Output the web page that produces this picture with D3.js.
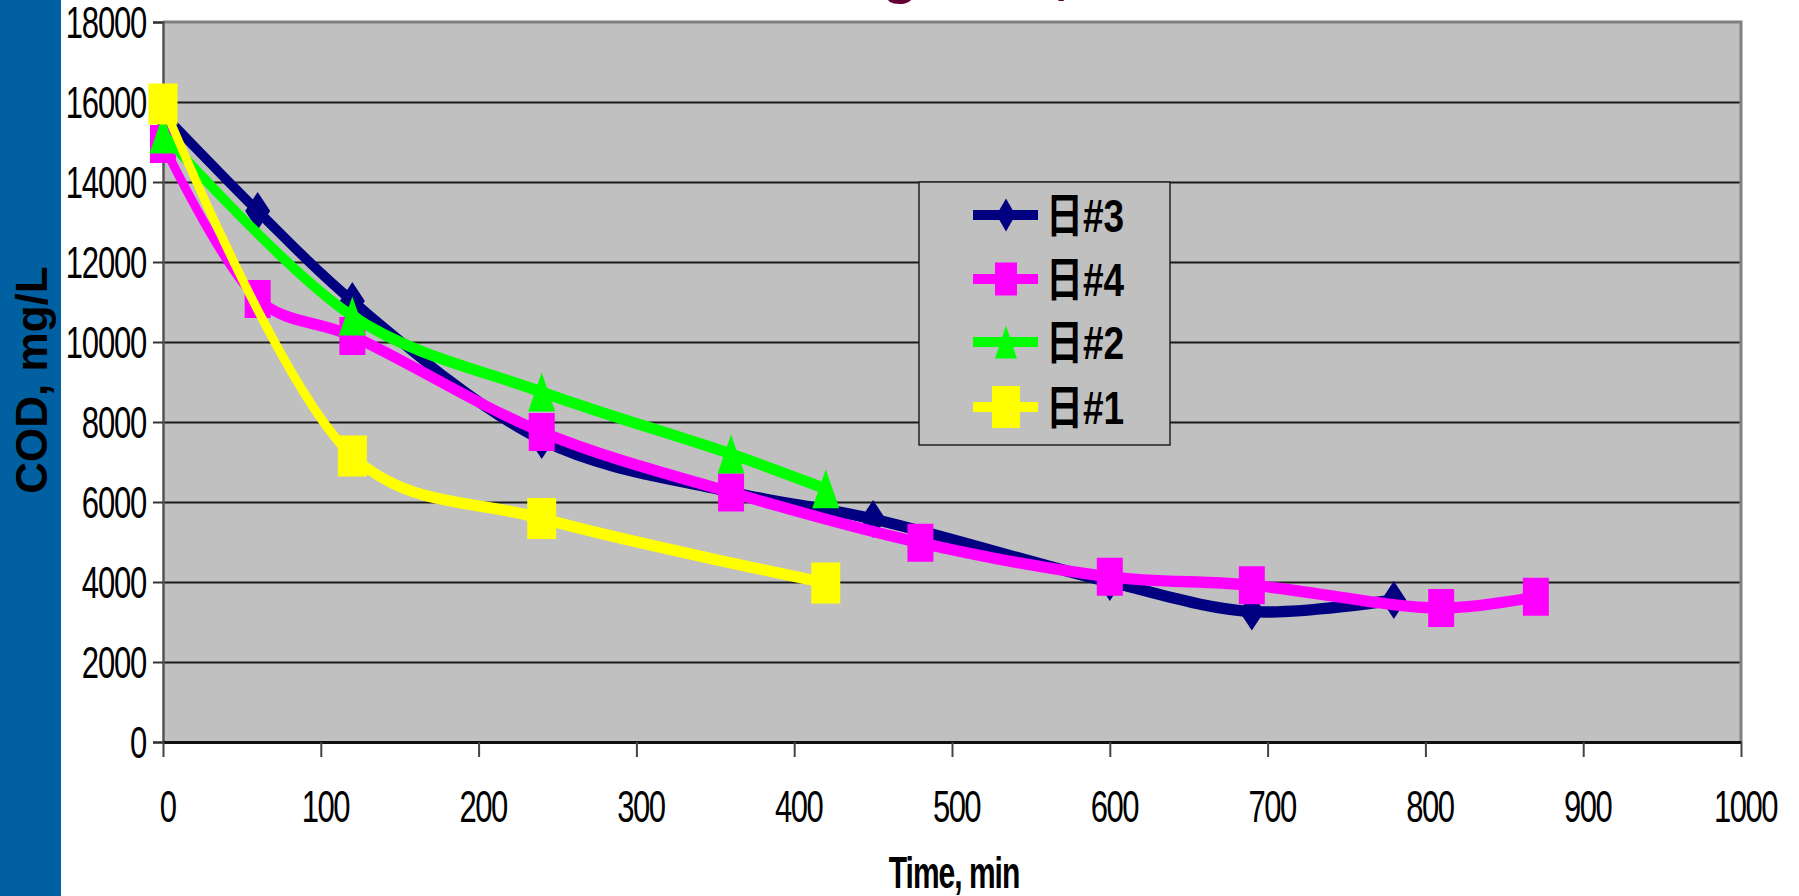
<!DOCTYPE html>
<html>
<head>
<meta charset="utf-8">
<script src="https://cdn.jsdelivr.net/npm/d3@7"></script>
<style>
  body { margin: 0; background: #ffffff; }
  #card { width: 1799px; height: 896px; position: relative; overflow: hidden; }
  text { font-family: "Liberation Sans", Arial, "Noto Sans CJK JP", sans-serif; }
</style>
</head>
<body>
<div id="card"></div>
<script>
//series labels and values
const seriesNames = ["日#3", "日#4", "日#2", "日#1"];
const seriesColors = ["#000080", "#FF00FF", "#00FF00", "#FFFF00"];

const day3Time = [0, 60, 120, 240, 360, 450, 600, 690, 780];
const day3COD  = [15700, 13275, 11025, 7550, 6250, 5575, 4000, 3260, 3550];

const day4Time = [0, 60, 120, 240, 360, 480, 600, 690, 810, 870];
const day4COD  = [14950, 11075, 10150, 7750, 6240, 4980, 4130, 3920, 3350, 3630];

const day2Time = [0, 120, 240, 360, 420];
const day2COD  = [15200, 10650, 8750, 7200, 6330];

const day1Time = [0, 120, 240, 420];
const day1COD  = [15950, 7150, 5590, 3975];

const xTicks = [0, 100, 200, 300, 400, 500, 600, 700, 800, 900, 1000];
const yTicks = [0, 2000, 4000, 6000, 8000, 10000, 12000, 14000, 16000, 18000];

const w = 1799;
const h = 896;
//the original picture is stretched vertically, so text and lines are too
const SY = 1.42;

const margin = { top: 22, bottom: 154, left: 163, right: 58 };
const width = w - (margin.left + margin.right);
const height = h - (margin.top + margin.bottom);

const svg = d3.select("#card")
  .append("svg")
    .attr("width", w)
    .attr("height", h);

//blue strip on the left
svg.append("rect")
  .attr("x", 0).attr("y", 0)
  .attr("width", 61).attr("height", h)
  .attr("fill", "#0060A2");

//cut off title at the very top
const title = svg.append("text")
  .attr("y", -8)
  .attr("fill", "#660033")
  .style("font-size", "60px")
  .style("font-weight", "bold")
  .text("Leaching Test, COD Removal");
const probe = svg.append("text").style("font-size", "60px").style("font-weight", "bold").text("Leachin");
const wPre = probe.node().getComputedTextLength();
probe.text("g");
const wG = probe.node().getComputedTextLength();
probe.remove();
title.attr("x", 900 - wPre - wG / 2);

const chart = svg.append("g")
  .attr("transform", "translate(" + margin.left + "," + margin.top + ")");

const x = d3.scaleLinear().domain([0, 1000]).range([0, width]);
const y = d3.scaleLinear().domain([0, 18000]).range([height, 0]);

//plot background
chart.append("rect")
  .attr("width", width).attr("height", height)
  .attr("fill", "#C0C0C0");

//gridlines
chart.append("g")
  .call(d3.axisLeft(y).tickValues(yTicks.slice(1, -1)).tickSize(-width).tickFormat(""))
  .call(g => g.select(".domain").remove())
  .call(g => g.selectAll("line").attr("stroke", "#1a1a1a").attr("stroke-width", 1.8));

//plot border (top and right)
chart.append("path")
  .attr("d", "M0,0H" + width + "V" + height)
  .attr("fill", "none")
  .attr("stroke", "#808080")
  .attr("stroke-width", 3);

//y axis
const yAxis = chart.append("g")
  .call(d3.axisLeft(y).tickValues(yTicks).tickFormat(d3.format("d")).tickSize(10).tickPadding(7));
yAxis.select(".domain").attr("stroke", "#555").attr("stroke-width", 2.5);
yAxis.selectAll("line").attr("stroke", "#333").attr("stroke-width", 2);
yAxis.selectAll("text")
  .attr("fill", "#000")
  .style("font-size", "31px")
  .style("letter-spacing", "-1.2px")
  .attr("transform", "scale(1," + SY + ")")
  .attr("dy", "0.36em");

//x axis
const xAxis = chart.append("g")
  .attr("transform", "translate(0," + height + ")")
  .call(d3.axisBottom(x).tickValues(xTicks).tickFormat(d3.format("d")).tickSize(15).tickSizeOuter(0));
xAxis.select(".domain").attr("stroke", "#111").attr("stroke-width", 3);
xAxis.selectAll("line").attr("stroke", "#444").attr("stroke-width", 2);
xAxis.selectAll("text")
  .attr("fill", "#000")
  .style("font-size", "31px")
  .style("letter-spacing", "-1.5px")
  .attr("x", 4)
  .attr("y", 64 / SY)
  .attr("dy", "0.36em")
  .attr("transform", "scale(1," + SY + ")");

//axis titles
svg.append("text")
  .attr("transform", "translate(954,872) scale(1," + 1.45 + ")")
  .attr("text-anchor", "middle")
  .attr("dy", "0.36em")
  .style("font-size", "30px")
  .style("font-weight", "bold")
  .style("letter-spacing", "-1px")
  .text("Time, min");

svg.append("text")
  .attr("transform", "translate(47,380) rotate(-90)")
  .attr("text-anchor", "middle")
  .style("font-size", "44px")
  .style("font-weight", "bold")
  .text("COD, mg/L");

//series
const series = [
  { name: seriesNames[0], time: day3Time, cod: day3COD, color: seriesColors[0], shape: "diamond", mw: 25, mh: 38, lw: 19, lh: 33 },
  { name: seriesNames[1], time: day4Time, cod: day4COD, color: seriesColors[1], shape: "square", mw: 26, mh: 38, lw: 22, lh: 33 },
  { name: seriesNames[2], time: day2Time, cod: day2COD, color: seriesColors[2], shape: "triangle", mw: 27, mh: 39, lw: 22, lh: 33 },
  { name: seriesNames[3], time: day1Time, cod: day1COD, color: seriesColors[3], shape: "square", mw: 29, mh: 41, lw: 28, lh: 42 }
];

function markerPath(shape, mw, mh) {
  const a = mw / 2, b = mh / 2;
  if (shape === "diamond") return "M0," + (-b) + "L" + a + ",0L0," + b + "L" + (-a) + ",0Z";
  if (shape === "triangle") return "M0," + (-b) + "L" + a + "," + b + "L" + (-a) + "," + b + "Z";
  return "M" + (-a) + "," + (-b) + "H" + a + "V" + b + "H" + (-a) + "Z";
}

//line generator, drawn in a vertically stretched group
const line = d3.line()
  .x(d => x(d[0]))
  .y(d => y(d[1]) / SY)
  .curve(d3.curveCatmullRom.alpha(0.5));

series.forEach(s => {
  const pts = s.time.map((t, i) => [t, s.cod[i]]);
  chart.append("g")
    .attr("transform", "scale(1," + SY + ")")
    .append("path")
      .attr("d", line(pts))
      .attr("fill", "none")
      .attr("stroke", s.color)
      .attr("stroke-width", 8)
      .attr("stroke-linejoin", "round");

  chart.append("g").selectAll("path")
    .data(pts)
    .enter()
      .append("path")
      .attr("transform", d => "translate(" + x(d[0]) + "," + y(d[1]) + ")")
      .attr("d", markerPath(s.shape, s.mw, s.mh))
      .attr("fill", s.color);
});

//legend
const legend = svg.append("g");
legend.append("rect")
  .attr("x", 919).attr("y", 182)
  .attr("width", 251).attr("height", 263)
  .attr("fill", "#C0C0C0")
  .attr("stroke", "#222")
  .attr("stroke-width", 1.5);

const rowY = [215, 279, 342, 407];
series.forEach((s, i) => {
  const row = legend.append("g").attr("transform", "translate(0," + rowY[i] + ")");
  row.append("rect")
    .attr("x", 973).attr("y", -5)
    .attr("width", 65).attr("height", 10)
    .attr("fill", s.color);
  row.append("path")
    .attr("transform", "translate(1006,0)")
    .attr("d", markerPath(s.shape, s.lw, s.lh))
    .attr("fill", s.color);
  row.append("text")
    .attr("transform", "translate(1046,0) scale(1,1.25)")
    .attr("dy", "0.36em")
    .style("font-size", "37px")
    .style("font-weight", "bold")
    .text(s.name);
});
</script>
</body>
</html>
